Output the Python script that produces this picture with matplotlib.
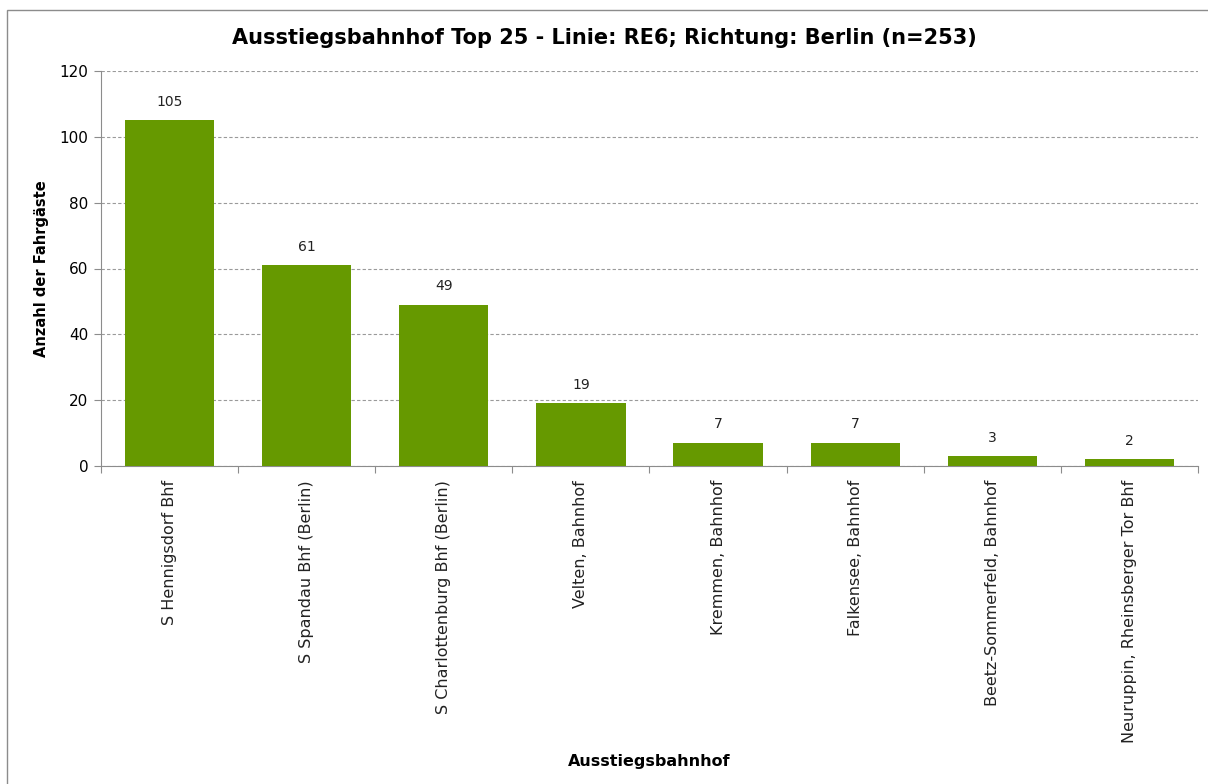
import numpy as np
import matplotlib.pyplot as plt
from matplotlib.patches import Rectangle

# data
stations = ['S Hennigsdorf Bhf', 'S Spandau Bhf (Berlin)', 'S Charlottenburg Bhf (Berlin)',
            'Velten, Bahnhof', 'Kremmen, Bahnhof', 'Falkensee, Bahnhof',
            'Beetz-Sommerfeld, Bahnhof', 'Neuruppin, Rheinsberger Tor Bhf']
counts = [105, 61, 49, 19, 7, 7, 3, 2]

plt.rcParams['font.family'] = ['DejaVu Sans']

fig = plt.figure(figsize=(12.08, 7.84), dpi=100)
ax = fig.add_axes([101 / 1208, 1 - 466 / 784, 1097 / 1208, 395 / 784])

# outer chart border
fig.patches.append(Rectangle((7 / 1208, -0.01), 1.0, 1 - 10 / 784 + 0.01,
                             transform=fig.transFigure, fill=False,
                             edgecolor='#8c8c8c', linewidth=1.0))

x = np.arange(len(stations))
bars = ax.bar(x, counts, width=0.65, color='#669900', zorder=3)

for xi, v in zip(x, counts):
    ax.text(xi, v + 3.5, str(v), ha='center', va='bottom', fontsize=10, color='#222222')

ax.set_xlim(-0.5, len(stations) - 0.5)
ax.set_ylim(0, 120)
ax.set_yticks(np.arange(0, 121, 20))
ax.yaxis.grid(True, linestyle=(0, (3, 2)), color='#9a9a9a', linewidth=0.8, zorder=0)

# ticks between categories
ax.set_xticks(np.arange(-0.5, len(stations), 1.0))
ax.set_xticklabels([])
ax.set_xticks(x, minor=True)
ax.set_xticklabels(stations, minor=True, rotation=90, fontsize=11.5, va='top', color='#222222')
ax.tick_params(axis='x', which='minor', length=0, pad=10)
ax.tick_params(axis='x', which='major', length=5, color='#8c8c8c')
ax.tick_params(axis='y', length=5, color='#8c8c8c', labelsize=11, pad=4)

for side in ['top', 'right']:
    ax.spines[side].set_visible(False)
for side in ['left', 'bottom']:
    ax.spines[side].set_color('#8c8c8c')

ax.set_ylabel('Anzahl der Fahrgäste', fontsize=10.5, fontweight='bold')
ax.set_xlabel('Ausstiegsbahnhof', fontsize=11.5, fontweight='bold')
ax.xaxis.set_label_coords(0.5, -0.73)
ax.yaxis.set_label_coords(-0.047, 0.5)

fig.text(0.5, 1 - 38 / 784, 'Ausstiegsbahnhof Top 25 - Linie: RE6; Richtung: Berlin (n=253)',
         ha='center', va='center', fontsize=15, fontweight='bold')

fig.savefig('out.png', dpi=100)
